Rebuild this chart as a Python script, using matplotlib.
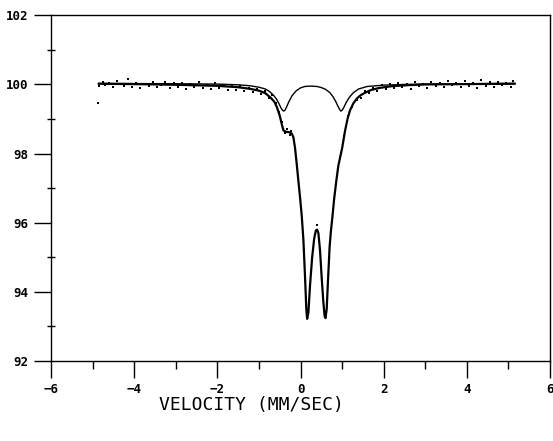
import numpy as np
import matplotlib
matplotlib.use("Agg")
import matplotlib.pyplot as plt
from matplotlib.ticker import MultipleLocator

# total fit (transmission %)
fit_v = [-4.85, -4.0, -3.0, -2.0, -1.5, -1.2, -1.0, -0.85, -0.72, -0.63, -0.57,
         -0.5, -0.45, -0.41, -0.35, -0.28, -0.21, -0.17, -0.13, -0.09, -0.05,
         -0.01, 0.03, 0.07, 0.11, 0.14, 0.16, 0.19, 0.23, 0.28, 0.33, 0.37, 0.40,
         0.43, 0.47, 0.51, 0.55, 0.58, 0.60, 0.63, 0.66, 0.70, 0.73, 0.77, 0.81,
         0.86, 0.91, 1.0, 1.07, 1.13, 1.19, 1.27, 1.36, 1.45, 1.55, 1.7, 1.9,
         2.2, 2.6, 3.0, 4.0, 5.15]
fit_t = [100.02, 100.01, 99.99, 99.96, 99.92, 99.87, 99.82, 99.75, 99.62, 99.5,
         99.35, 99.1, 98.85, 98.67, 98.63, 98.62, 98.58, 98.47, 98.15, 97.69,
         97.2, 96.72, 96.2, 95.5, 94.4, 93.5, 93.22, 93.4, 94.2, 95.0, 95.55,
         95.78, 95.8, 95.7, 95.2, 94.4, 93.7, 93.3, 93.24, 93.5, 94.3, 95.3,
         95.74, 96.2, 96.7, 97.2, 97.65, 98.15, 98.65, 99.0, 99.25, 99.45, 99.6,
         99.69, 99.76, 99.84, 99.9, 99.95, 99.98, 100.0, 100.01, 100.02]

# minor doublet subspectrum
sub_v = [-4.85, -3.0, -2.0, -1.5, -1.2, -1.0, -0.85, -0.75, -0.65, -0.58, -0.52,
         -0.47, -0.43, -0.40, -0.37, -0.33, -0.28, -0.2, -0.1, 0.0, 0.1, 0.2,
         0.3, 0.4, 0.5, 0.6, 0.7, 0.78, 0.85, 0.9, 0.94, 0.97, 1.0, 1.04, 1.1,
         1.17, 1.27, 1.4, 1.6, 2.0, 2.5, 3.0, 4.0, 5.15]
sub_t = [100.03, 100.02, 100.01, 99.99, 99.96, 99.92, 99.87, 99.8, 99.69, 99.58,
         99.45, 99.32, 99.25, 99.23, 99.26, 99.36, 99.5, 99.68, 99.82, 99.9,
         99.94, 99.95, 99.95, 99.94, 99.91, 99.86, 99.77, 99.65, 99.5, 99.37,
         99.28, 99.23, 99.25, 99.33, 99.48, 99.62, 99.76, 99.87, 99.94, 99.98,
         100.0, 100.01, 100.02, 100.03]

# measured points
data_v = [-4.87, -4.85, -4.75, -4.7, -4.6, -4.5, -4.42, -4.35, -4.25, -4.15, -4.05,
          -3.95, -3.85, -3.75, -3.65, -3.55, -3.45, -3.35, -3.25, -3.15, -3.05,
          -2.95, -2.85, -2.75, -2.65, -2.55, -2.45, -2.35, -2.25, -2.15, -2.05,
          -1.95, -1.85, -1.75, -1.65, -1.55, -1.45, -1.35, -1.25, -1.15, -1.05,
          -0.95, -0.85, -0.75, -0.68, -0.6, -0.52, -0.45, -0.38, -0.32, -0.26,
          -0.22, 0.39, 0.95, 1.05, 1.15, 1.25, 1.35, 1.45, 1.55, 1.65, 1.75, 1.85,
          1.95, 2.05, 2.15, 2.25, 2.35, 2.45, 2.55, 2.65, 2.75, 2.85, 2.95, 3.05,
          3.15, 3.25, 3.35, 3.45, 3.55, 3.65, 3.75, 3.85, 3.95, 4.05, 4.15, 4.25,
          4.35, 4.45, 4.55, 4.65, 4.75, 4.85, 4.95, 5.05, 5.12]
data_t = [99.46, 99.95, 100.08, 99.97, 100.04, 99.93, 100.1, 100.0, 99.96, 100.15,
          99.94, 100.05, 99.9, 100.02, 99.95, 100.08, 99.92, 99.99, 100.06, 99.9,
          100.03, 99.94, 100.05, 99.88, 100.0, 99.93, 100.07, 99.9, 99.98, 99.86,
          100.03, 99.9, 99.97, 99.85, 99.95, 99.83, 99.96, 99.8, 99.9, 99.78,
          99.86, 99.72, 99.8, 99.6, 99.7, 99.45, 99.2, 98.9, 98.6, 98.7, 98.55,
          98.65, 95.92, 97.9, 98.5, 99.1, 99.35, 99.55, 99.62, 99.8, 99.75, 99.9,
          99.82, 99.97, 99.88, 100.02, 99.9, 100.05, 99.93, 100.0, 99.88, 100.06,
          99.95, 100.02, 99.9, 100.08, 99.96, 100.03, 99.92, 100.1, 99.97, 100.05,
          99.93, 100.09, 99.95, 100.04, 99.9, 100.12, 99.96, 100.06, 99.92, 100.08,
          99.97, 100.05, 99.94, 100.1]

fig = plt.figure(figsize=(5.53, 4.41), dpi=100)
ax = fig.add_axes([0.0922, 0.1814, 0.9024, 0.7839])

ax.plot(fit_v, fit_t, color="black", lw=1.6)
ax.plot(sub_v, sub_t, color="black", lw=1.0)
ax.plot(data_v, data_t, ls="none", marker="s", ms=1.6, mew=0, color="black")

ax.set_xlim(-6, 6)
ax.set_ylim(92, 102)
ax.xaxis.set_major_locator(MultipleLocator(2))
ax.xaxis.set_minor_locator(MultipleLocator(1))
ax.yaxis.set_major_locator(MultipleLocator(2))
ax.yaxis.set_minor_locator(MultipleLocator(1))
ax.tick_params(axis="both", which="major", direction="out", length=12, width=1.0,
               labelsize=9, pad=4)
ax.tick_params(axis="x", which="minor", direction="out", length=6, width=1.0)
ax.tick_params(axis="y", which="minor", direction="inout", length=6, width=1.0)
for lab in ax.get_xticklabels() + ax.get_yticklabels():
    lab.set_fontfamily("DejaVu Sans Mono")
    lab.set_fontweight("bold")
for sp in ax.spines.values():
    sp.set_linewidth(1.0)

fig.text(0.454, 0.082, "VELOCITY (MM/SEC)", ha="center", va="center",
         fontsize=13, family="DejaVu Sans Mono")

fig.savefig("out.png", dpi=100)
